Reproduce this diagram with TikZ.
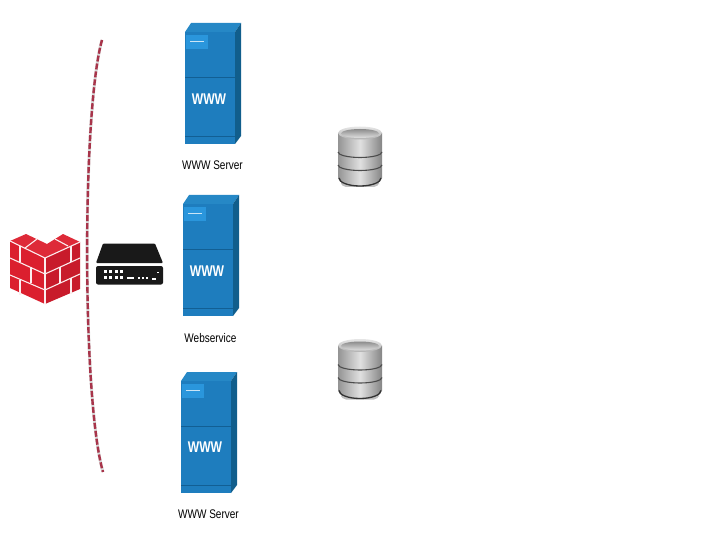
\documentclass[tikz,border=0pt]{standalone}
\usepackage{fontspec}
\setmainfont[FakeStretch=0.8]{Liberation Sans}
\newfontfamily\wwwfont[FakeStretch=0.78]{Liberation Sans}
\usetikzlibrary{positioning, calc, shadings}

\definecolor{srvfront}{HTML}{1E7DBE}
\definecolor{srvside}{HTML}{115E8C}
\definecolor{srvtop}{HTML}{2688C6}
\definecolor{srvpanel}{HTML}{2A96DC}
\definecolor{srvline}{HTML}{125F94}
\definecolor{brick}{HTML}{DB1F2E}
\definecolor{brickdark}{HTML}{C81B2B}
\definecolor{bricktop}{HTML}{DE2A38}
\definecolor{fenceline}{HTML}{A8344A}

\begin{document}
\begin{tikzpicture}[
x=1pt, y=-1pt,
    caption/.style={font=\fontsize{12.5}{14}\selectfont, text=black, inner sep=0pt},
    wwwtext/.style={font=\wwwfont\fontsize{15.5}{17}\selectfont\bfseries, text=white, inner sep=0pt},
    mortar/.style={draw=white!92!brick, line width=1.1pt},
    port/.style={fill=white, draw=none},
    server/.pic={
        \fill[srvtop] (0,0) -- (6,-9) -- (56,-9) -- (50,0) -- cycle;
        \fill[srvside] (50,0) -- (56,-9) -- (56,104) -- (50,112) -- cycle;
        \fill[srvfront] (0,0) rectangle (50,112);
        \fill[srvpanel] (1,3) rectangle (23,17);
        \draw[white!75!srvpanel, line width=0.7pt] (5,9) -- (19,9);
        \draw[srvline, line width=0.7pt] (0,45) -- (50,45);
        \draw[srvline, line width=0.7pt] (0,104) -- (50,104);
    },
    database/.pic={
        \fill[black!25, rounded corners=5pt] (-19,47) rectangle (19,54);
        \shade[left color=black!42, right color=black!48, middle color=black!12]
            (-22,0) -- (-22,45) arc[start angle=180, end angle=360, x radius=22, y radius=-8]
            -- (22,0) -- cycle;
        \draw[black!70, line width=1.1pt] (-22,19) arc[start angle=180, end angle=360, x radius=22, y radius=-5.5];
        \draw[black!70, line width=1.1pt] (-22,32) arc[start angle=180, end angle=360, x radius=22, y radius=-5.5];
        \draw[black!80, line width=1.3pt] (-21,45) arc[start angle=180, end angle=360, x radius=21, y radius=-8];
        \shade[top color=black!10, bottom color=black!30] (0,0) ellipse[x radius=22, y radius=6.5];
        \shade[top color=black!45, bottom color=black!12] (0,0.5) ellipse[x radius=19, y radius=4.5];
    }
]

    \useasboundingbox (0,0) rectangle (720,540);

    % --- Firewall ---
    \fill[brick] (10,241) -- (45,258) -- (45,304) -- (10,288) -- cycle;
    \fill[brickdark] (45,258) -- (80,242) -- (80,289) -- (45,304) -- cycle;
    \fill[bricktop] (10,241) -- (26,234) -- (47,244) -- (63,234) -- (80,242) -- (45,258) -- cycle;

    \draw[mortar] (10,241) -- (45,258) -- (80,242);
    \draw[mortar] (10,258) -- (45,274) -- (80,258);
    \draw[mortar] (10,275) -- (45,290) -- (80,274);
    \draw[mortar] (45,258) -- (45,304);
    \draw[mortar] (25,248) -- (37,239);
    \draw[mortar] (55,239) -- (68,246);
    \draw[mortar] (20,246) -- (20,262);
    \draw[mortar] (31,267) -- (31,283);
    \draw[mortar] (20,280) -- (20,295);
    \draw[mortar] (71,246) -- (71,262);
    \draw[mortar] (60,267) -- (60,283);
    \draw[mortar] (71,278) -- (71,294);

    % --- Dashed boundary ---
    \coordinate (fencetop) at (102,40);
    \coordinate (fencebot) at (103,472);
    \draw[black!15, line width=3pt] (fencetop) .. controls (82,110) and (82,400) .. (fencebot);
    \draw[fenceline, line width=2.4pt, dash pattern=on 6pt off 2pt] (fencetop) .. controls (82,110) and (82,400) .. (fencebot);

    % --- Switch ---
    \fill[black!90, rounded corners=1pt] (103,243.5) -- (155,243.5) -- (163,263) -- (96,263) -- cycle;
    \fill[black!90, rounded corners=2pt] (96,266) rectangle (163,284.5);
    \foreach \px in {103.5,109,114.5,120} {
        \fill[port] (\px,269.5) rectangle +(3.4,3.4);
        \fill[port] (\px,276) rectangle +(3.4,3.4);
    }
    \fill[port] (126.5,277) rectangle (133.5,279);
    \foreach \px in {137.5,141.5,145.5} {
        \fill[port] (\px,276.5) rectangle +(2.8,2.8);
    }
    \fill[port] (152,278) rectangle (156,280);
    \fill[port] (157,271.5) rectangle +(1.8,1.8);

    % --- Servers ---
    \pic at (185,32) {server};
    \pic at (183,204) {server};
    \pic at (181,381) {server};

    \node[wwwtext] (wwwa) at (209,99) {WWW};
    \node[wwwtext] (wwwb) at (207,271) {WWW};
    \node[wwwtext] (wwwc) at (205,447) {WWW};

    \node[caption] (srva) at (212.5,165) {WWW Server};
    \node[caption] (srvb) at (210.5,338) {Webservice};
    \node[caption] (srvc) at (208.5,514) {WWW Server};

    % --- Databases ---
    \pic at (360,133) {database};
    \pic at (360,345.5) {database};

\end{tikzpicture}
\end{document}
